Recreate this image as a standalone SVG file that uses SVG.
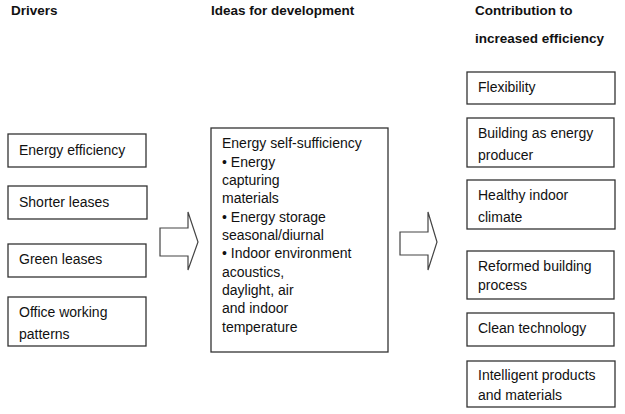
<svg xmlns="http://www.w3.org/2000/svg" width="625" height="414" viewBox="0 0 625 414">
<style>
.box{fill:#fff;stroke:#333;stroke-width:1.3}
.arr{fill:#fff;stroke:#444;stroke-width:1.2;stroke-linejoin:miter}
text{font-family:"Liberation Sans",Arial,sans-serif;fill:#111}
.h{font-size:13.5px;font-weight:bold}
.t{font-size:14px}
</style>
<rect width="625" height="414" fill="#fff"/>
<g id="headers">
<text class="h" x="11" y="15">Drivers</text>
<text class="h" x="211" y="15">Ideas for development</text>
<text class="h" x="475" y="15">Contribution to</text>
<text class="h" x="475" y="43">increased efficiency</text>
</g>
<g id="connectors">
<polygon class="arr" points="160,228 188,228 188,212 198,242 188,270 188,256 160,256"/>
<polygon class="arr" points="400,232 428,232 428,212 437,242 428,270 428,255 400,255"/>
</g>
<g id="drv-energy-efficiency"><rect class="box" x="8" y="134" width="138" height="33"/><text class="t" x="19" y="155">Energy efficiency</text></g>
<g id="drv-shorter-leases"><rect class="box" x="8" y="186" width="139" height="33"/><text class="t" x="19" y="207">Shorter leases</text></g>
<g id="drv-green-leases"><rect class="box" x="8" y="244" width="138" height="33"/><text class="t" x="19" y="264">Green leases</text></g>
<g id="drv-office"><rect class="box" x="8" y="297" width="138" height="49"/><text class="t" x="19" y="317">Office working</text><text class="t" x="19" y="339">patterns</text></g>
<g id="ideas">
<rect class="box" x="211" y="128" width="177" height="224"/>
<text class="t" x="222" y="148">Energy self-sufficiency</text>
<text class="t" x="222" y="167">• Energy</text>
<text class="t" x="222" y="185">capturing</text>
<text class="t" x="222" y="203">materials</text>
<text class="t" x="222" y="222">• Energy storage</text>
<text class="t" x="222" y="240">seasonal/diurnal</text>
<text class="t" x="222" y="258">• Indoor environment</text>
<text class="t" x="222" y="277">acoustics,</text>
<text class="t" x="222" y="295">daylight, air</text>
<text class="t" x="222" y="313">and indoor</text>
<text class="t" x="222" y="332">temperature</text>
</g>
<g id="c-flexibility"><rect class="box" x="467" y="72" width="148" height="32"/><text class="t" x="478" y="92">Flexibility</text></g>
<g id="c-building"><rect class="box" x="467" y="118" width="147" height="49"/><text class="t" x="478" y="138">Building as energy</text><text class="t" x="478" y="160">producer</text></g>
<g id="c-healthy"><rect class="box" x="467" y="180" width="148" height="49"/><text class="t" x="478" y="200">Healthy indoor</text><text class="t" x="478" y="222">climate</text></g>
<g id="c-reformed"><rect class="box" x="467" y="251" width="147" height="48"/><text class="t" x="478" y="271">Reformed building</text><text class="t" x="478" y="290">process</text></g>
<g id="c-clean"><rect class="box" x="467" y="313" width="147" height="33"/><text class="t" x="478" y="333">Clean technology</text></g>
<g id="c-intelligent"><rect class="box" x="467" y="361" width="148" height="46"/><text class="t" x="478" y="380">Intelligent products</text><text class="t" x="478" y="400">and materials</text></g>
</svg>
